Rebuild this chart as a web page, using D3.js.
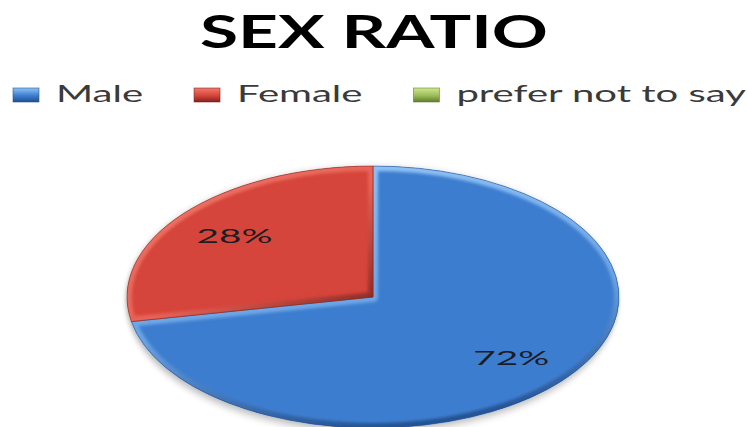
<!DOCTYPE html>
<html>
<head>
<meta charset="utf-8">
<script src="https://cdn.jsdelivr.net/npm/d3@7"></script>
<style>
  html, body { margin: 0; padding: 0; background: #ffffff; }
  svg { display: block; }
</style>
</head>
<body>
<script>
// Survey responses by sex (percent of respondents)
const categories = ["Male", "Female", "prefer not to say"];
const values = [72, 28, 0];
const chartTitle = "SEX RATIO";

// Slice / legend colours: base, bevel highlight, bevel shade
const baseColors  = ["#3d7dcf", "#d6443a", "#9bbb59"];
const lightColors = ["#8fc2f6", "#f27a6c", "#cfe88f"];
const darkColors  = ["#214f8f", "#7e221d", "#5f7d2a"];
// bevel light direction per slice (bounding-box coordinates)
const rimDirs = [[0.35, 0, 0.6, 1], [0, 0, 1, 1], [0, 0, 0, 1]];

const W = 748, H = 427;
const svg = d3.select("body").append("svg").attr("width", W).attr("height", H)
  .style("font-family", "Lato, 'Open Sans', 'DejaVu Sans', sans-serif");

const defs = svg.append("defs");

// Soft shadow under the pie
const shadow = defs.append("filter").attr("id", "pieShadow")
  .attr("x", "-10%").attr("y", "-10%").attr("width", "120%").attr("height", "130%");
shadow.append("feGaussianBlur").attr("in", "SourceAlpha").attr("stdDeviation", "2 4").attr("result", "b");
shadow.append("feOffset").attr("in", "b").attr("dx", -1).attr("dy", 3).attr("result", "o");
shadow.append("feComponentTransfer").attr("in", "o").attr("result", "s")
  .append("feFuncA").attr("type", "linear").attr("slope", 0.3);
const merge = shadow.append("feMerge");
merge.append("feMergeNode").attr("in", "s");
merge.append("feMergeNode").attr("in", "SourceGraphic");

// Slight blur for the bevel rims
defs.append("filter").attr("id", "rimBlur")
  .attr("x", "-5%").attr("y", "-5%").attr("width", "110%").attr("height", "110%")
  .append("feGaussianBlur").attr("stdDeviation", "0.8 1.4");

// Bevel gradients (light on the lit side, shaded on the far side)
categories.forEach((c, i) => {
  const [x1, y1, x2, y2] = rimDirs[i];
  const g = defs.append("linearGradient").attr("id", "rim" + i)
    .attr("x1", x1).attr("y1", y1).attr("x2", x2).attr("y2", y2);
  g.append("stop").attr("offset", "0%").attr("stop-color", lightColors[i]);
  g.append("stop").attr("offset", "55%").attr("stop-color", d3.interpolateRgb(lightColors[i], baseColors[i])(0.45));
  g.append("stop").attr("offset", "100%").attr("stop-color", darkColors[i]);

  const lg = defs.append("linearGradient").attr("id", "key" + i)
    .attr("x1", 0).attr("y1", 0).attr("x2", 0).attr("y2", 1);
  lg.append("stop").attr("offset", "0%").attr("stop-color", lightColors[i]);
  lg.append("stop").attr("offset", "55%").attr("stop-color", baseColors[i]);
  lg.append("stop").attr("offset", "100%").attr("stop-color", darkColors[i]);
});

// Title
svg.append("text")
  .attr("x", 374).attr("y", 48)
  .attr("text-anchor", "middle")
  .attr("font-size", 46).attr("font-weight", 700)
  .attr("fill", "#000")
  .attr("textLength", 348).attr("lengthAdjust", "spacingAndGlyphs")
  .text(chartTitle);

// Legend
const legendFont = 23, legendStretch = 1.74;
const keyW = 26, keyH = 14, keyGap = 17, itemGap = 51;
let lx = 13;
const legend = svg.append("g");
categories.forEach((c, i) => {
  const item = legend.append("g");
  item.append("rect")
    .attr("x", lx).attr("y", 88).attr("width", keyW).attr("height", keyH)
    .attr("fill", `url(#key${i})`)
    .attr("stroke", darkColors[i]).attr("stroke-width", 0.8).attr("stroke-opacity", 0.7);
  const t = item.append("text")
    .attr("x", lx + keyW + keyGap).attr("y", 102)
    .attr("font-size", legendFont)
    .attr("fill", "#3a3a3a")
    .text(c);
  const w = t.node().getComputedTextLength() * legendStretch;
  t.attr("textLength", w).attr("lengthAdjust", "spacingAndGlyphs");
  lx += keyW + keyGap + w + itemGap;
});

// Pie (drawn as a circle of radius ry, stretched horizontally to rx)
const cx = 373, cy = 297, ry = 131, rx = 246;
const pie = d3.pie().sort(null).value(d => d.value);
const arcs = pie(categories.map((c, i) => ({ name: c, value: values[i], idx: i })))
  .filter(d => d.data.value > 0);
const arc = d3.arc().innerRadius(0).outerRadius(ry);

const pieG = svg.append("g").attr("filter", "url(#pieShadow)")
  .append("g").attr("transform", `translate(${cx},${cy}) scale(${rx / ry},1)`);

arcs.forEach(d => {
  const i = d.data.idx;
  defs.append("clipPath").attr("id", "clip" + i)
    .append("path").attr("d", arc(d));
  pieG.append("path")
    .attr("d", arc(d))
    .attr("fill", baseColors[i]);
  // inner bevel rim
  pieG.append("g").attr("clip-path", `url(#clip${i})`)
    .append("path")
    .attr("d", arc(d))
    .attr("fill", "none")
    .attr("stroke", `url(#rim${i})`)
    .attr("stroke-width", 10)
    .attr("vector-effect", "non-scaling-stroke")
    .attr("stroke-linejoin", "round")
    .attr("filter", "url(#rimBlur)");
  // thin outline
  pieG.append("path")
    .attr("d", arc(d))
    .attr("fill", "none")
    .attr("stroke", darkColors[i])
    .attr("stroke-opacity", 0.55)
    .attr("stroke-width", 1)
    .attr("vector-effect", "non-scaling-stroke");
});

// Percentage labels
const labelR = 0.73;
svg.append("g").selectAll("text")
  .data(arcs)
  .join("text")
  .attr("x", d => cx + Math.sin((d.startAngle + d.endAngle) / 2) * rx * labelR)
  .attr("y", d => cy - Math.cos((d.startAngle + d.endAngle) / 2) * ry * labelR + 7)
  .attr("text-anchor", "middle")
  .attr("font-size", 20)
  .attr("fill", "#1c1c24")
  .attr("textLength", 76).attr("lengthAdjust", "spacingAndGlyphs")
  .text(d => d.data.value + "%");
</script>
</body>
</html>
